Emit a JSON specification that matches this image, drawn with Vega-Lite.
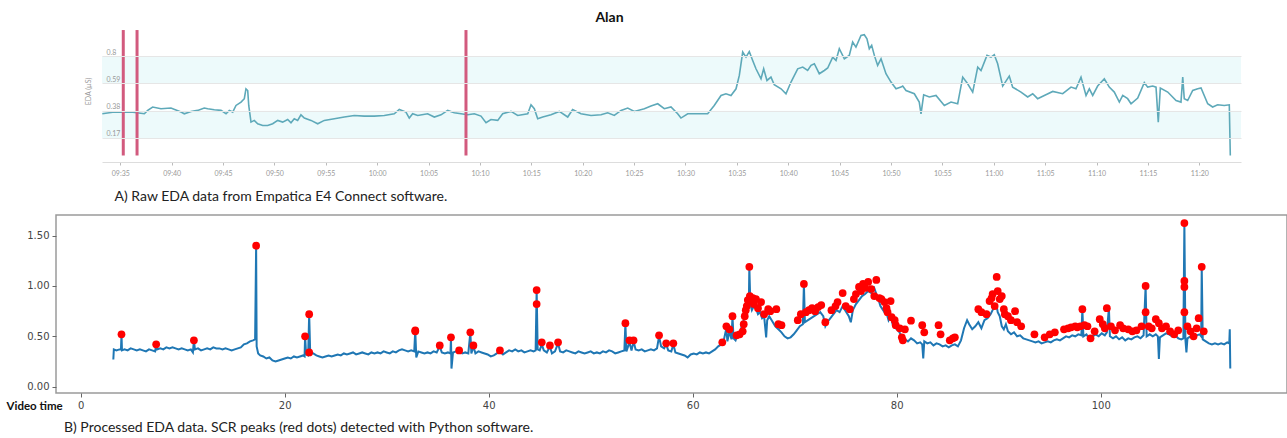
{
  "$schema": "https://vega.github.io/schema/vega-lite/v6.json",
  "padding": {"left": 5, "top": 10, "right": 0, "bottom": 0},
  "background": "white",
  "bounds": "flush",
  "center": true,
  "spacing": 53,
  "config": {"view": {"stroke": null}, "font": "Lato"},
  "datasets": {
    "bands": [{"lo": 0.59, "hi": 0.8}, {"lo": 0.17, "hi": 0.38}],
    "markers": [{"m": 35.29}, {"m": 36.63}, {"m": 68.64}],
    "raw": [
      {"m":33.25,"v":0.356},{"m":34.42,"v":0.369},{"m":36.04,"v":0.369},{"m":37.34,"v":0.356},{"m":37.67,"v":0.382},{"m":38.15,"v":0.408},{"m":38.96,"v":0.395},{"m":39.93,"v":0.4},{"m":40.91,"v":0.369},{"m":41.23,"v":0.356},{"m":41.88,"v":0.374},{"m":42.53,"v":0.382},{"m":43.17,"v":0.4},{"m":43.51,"v":0.395},{"m":44.15,"v":0.387},{"m":44.8,"v":0.382},{"m":45.29,"v":0.356},{"m":45.61,"v":0.382},{"m":45.94,"v":0.369},{"m":46.26,"v":0.42},{"m":46.75,"v":0.446},{"m":47.07,"v":0.472},{"m":47.23,"v":0.548},{"m":47.4,"v":0.535},{"m":47.5,"v":0.42},{"m":47.72,"v":0.292},{"m":48.04,"v":0.305},{"m":48.37,"v":0.279},{"m":48.86,"v":0.266},{"m":49.34,"v":0.266},{"m":49.83,"v":0.279},{"m":50.32,"v":0.305},{"m":50.8,"v":0.292},{"m":51.29,"v":0.312},{"m":51.61,"v":0.287},{"m":51.93,"v":0.318},{"m":52.26,"v":0.305},{"m":52.58,"v":0.348},{"m":52.91,"v":0.323},{"m":53.56,"v":0.305},{"m":54.21,"v":0.279},{"m":54.85,"v":0.305},{"m":55.83,"v":0.318},{"m":56.8,"v":0.331},{"m":57.77,"v":0.343},{"m":58.74,"v":0.338},{"m":59.72,"v":0.338},{"m":60.69,"v":0.343},{"m":61.66,"v":0.356},{"m":62.15,"v":0.389},{"m":62.8,"v":0.369},{"m":63.12,"v":0.323},{"m":63.45,"v":0.356},{"m":63.94,"v":0.343},{"m":64.91,"v":0.356},{"m":65.56,"v":0.331},{"m":66.21,"v":0.348},{"m":66.86,"v":0.382},{"m":67.5,"v":0.364},{"m":68.16,"v":0.356},{"m":68.81,"v":0.348},{"m":69.45,"v":0.356},{"m":70.1,"v":0.338},{"m":70.59,"v":0.287},{"m":71.07,"v":0.312},{"m":71.73,"v":0.305},{"m":72.21,"v":0.356},{"m":73.02,"v":0.374},{"m":73.67,"v":0.343},{"m":74.65,"v":0.356},{"m":74.97,"v":0.425},{"m":75.29,"v":0.395},{"m":75.62,"v":0.318},{"m":76.11,"v":0.331},{"m":76.91,"v":0.348},{"m":77.72,"v":0.374},{"m":78.54,"v":0.331},{"m":79.02,"v":0.389},{"m":79.83,"v":0.356},{"m":80.81,"v":0.343},{"m":81.78,"v":0.348},{"m":82.43,"v":0.364},{"m":83.07,"v":0.343},{"m":83.73,"v":0.382},{"m":84.38,"v":0.4},{"m":85.02,"v":0.374},{"m":86.0,"v":0.395},{"m":86.64,"v":0.415},{"m":87.3,"v":0.433},{"m":87.94,"v":0.395},{"m":88.59,"v":0.408},{"m":89.24,"v":0.356},{"m":89.56,"v":0.323},{"m":90.22,"v":0.356},{"m":91.19,"v":0.356},{"m":92.16,"v":0.356},{"m":92.8,"v":0.42},{"m":93.46,"v":0.497},{"m":93.94,"v":0.51},{"m":94.43,"v":0.497},{"m":94.92,"v":0.548},{"m":95.24,"v":0.651},{"m":95.57,"v":0.831},{"m":95.89,"v":0.792},{"m":96.21,"v":0.835},{"m":96.54,"v":0.766},{"m":96.86,"v":0.702},{"m":97.35,"v":0.625},{"m":97.61,"v":0.702},{"m":97.93,"v":0.612},{"m":98.32,"v":0.638},{"m":98.64,"v":0.579},{"m":99.3,"v":0.548},{"m":99.78,"v":0.51},{"m":100.27,"v":0.6},{"m":100.92,"v":0.702},{"m":101.41,"v":0.715},{"m":101.89,"v":0.689},{"m":102.22,"v":0.728},{"m":102.54,"v":0.741},{"m":103.02,"v":0.664},{"m":103.51,"v":0.689},{"m":103.84,"v":0.708},{"m":104.33,"v":0.792},{"m":104.65,"v":0.766},{"m":104.97,"v":0.856},{"m":105.46,"v":0.779},{"m":105.94,"v":0.805},{"m":106.27,"v":0.908},{"m":106.59,"v":0.869},{"m":107.08,"v":0.958},{"m":107.4,"v":0.964},{"m":107.66,"v":0.933},{"m":107.89,"v":0.856},{"m":108.12,"v":0.882},{"m":108.38,"v":0.805},{"m":108.7,"v":0.728},{"m":109.03,"v":0.779},{"m":109.51,"v":0.664},{"m":110.0,"v":0.6},{"m":110.49,"v":0.548},{"m":110.97,"v":0.561},{"m":111.14,"v":0.569},{"m":111.46,"v":0.535},{"m":112.27,"v":0.51},{"m":112.75,"v":0.446},{"m":112.92,"v":0.356},{"m":113.18,"v":0.502},{"m":113.73,"v":0.485},{"m":114.38,"v":0.497},{"m":115.19,"v":0.42},{"m":115.84,"v":0.446},{"m":116.49,"v":0.433},{"m":116.98,"v":0.638},{"m":117.46,"v":0.587},{"m":117.95,"v":0.523},{"m":118.44,"v":0.715},{"m":118.76,"v":0.689},{"m":119.34,"v":0.805},{"m":119.73,"v":0.792},{"m":120.05,"v":0.81},{"m":120.38,"v":0.741},{"m":120.87,"v":0.569},{"m":121.51,"v":0.646},{"m":121.84,"v":0.561},{"m":122.65,"v":0.523},{"m":123.3,"v":0.485},{"m":123.79,"v":0.51},{"m":124.27,"v":0.472},{"m":124.92,"v":0.497},{"m":125.74,"v":0.528},{"m":126.71,"v":0.51},{"m":127.52,"v":0.561},{"m":128.0,"v":0.548},{"m":128.49,"v":0.638},{"m":128.98,"v":0.497},{"m":129.3,"v":0.548},{"m":129.63,"v":0.497},{"m":130.11,"v":0.569},{"m":130.76,"v":0.625},{"m":131.24,"v":0.561},{"m":131.73,"v":0.523},{"m":132.22,"v":0.446},{"m":132.55,"v":0.497},{"m":133.03,"v":0.472},{"m":133.36,"v":0.433},{"m":134.01,"v":0.477},{"m":134.65,"v":0.595},{"m":134.98,"v":0.561},{"m":135.47,"v":0.569},{"m":135.79,"v":0.561},{"m":136.01,"v":0.292},{"m":136.21,"v":0.554},{"m":136.93,"v":0.523},{"m":137.74,"v":0.458},{"m":138.22,"v":0.446},{"m":138.39,"v":0.638},{"m":138.54,"v":0.472},{"m":138.87,"v":0.458},{"m":139.36,"v":0.535},{"m":139.85,"v":0.548},{"m":140.17,"v":0.554},{"m":140.82,"v":0.433},{"m":141.3,"v":0.408},{"m":141.79,"v":0.425},{"m":142.43,"v":0.42},{"m":142.92,"v":0.425},{"m":143.02,"v":0.035}
    ],
    "eda": [
      {"t":3.2,"v":0.27},{"t":3.25,"v":0.37},{"t":3.5,"v":0.36},{"t":3.8,"v":0.37},{"t":3.95,"v":0.37},{"t":4.0,"v":0.52},{"t":4.05,"v":0.36},{"t":4.3,"v":0.37},{"t":4.6,"v":0.36},{"t":4.9,"v":0.38},{"t":5.2,"v":0.37},{"t":5.5,"v":0.36},{"t":5.8,"v":0.37},{"t":6.1,"v":0.36},{"t":6.4,"v":0.35},{"t":6.7,"v":0.37},{"t":7.0,"v":0.36},{"t":7.3,"v":0.35},{"t":7.4,"v":0.42},{"t":7.5,"v":0.37},{"t":7.8,"v":0.38},{"t":8.1,"v":0.37},{"t":8.4,"v":0.39},{"t":8.7,"v":0.38},{"t":9.0,"v":0.39},{"t":9.3,"v":0.38},{"t":9.6,"v":0.37},{"t":9.9,"v":0.38},{"t":10.2,"v":0.37},{"t":10.5,"v":0.36},{"t":10.8,"v":0.37},{"t":11.0,"v":0.34},{"t":11.1,"v":0.46},{"t":11.2,"v":0.37},{"t":11.5,"v":0.38},{"t":11.8,"v":0.36},{"t":12.1,"v":0.37},{"t":12.4,"v":0.38},{"t":12.7,"v":0.37},{"t":13.0,"v":0.39},{"t":13.3,"v":0.38},{"t":13.6,"v":0.38},{"t":13.9,"v":0.37},{"t":14.2,"v":0.38},{"t":14.5,"v":0.37},{"t":14.8,"v":0.36},{"t":15.1,"v":0.37},{"t":15.4,"v":0.38},{"t":15.7,"v":0.39},{"t":16.0,"v":0.42},{"t":16.3,"v":0.43},{"t":16.6,"v":0.45},{"t":16.9,"v":0.46},{"t":17.1,"v":0.47},{"t":17.2,"v":1.4},{"t":17.25,"v":0.4},{"t":17.4,"v":0.33},{"t":17.6,"v":0.31},{"t":17.9,"v":0.3},{"t":18.2,"v":0.28},{"t":18.5,"v":0.29},{"t":18.8,"v":0.26},{"t":19.1,"v":0.25},{"t":19.4,"v":0.26},{"t":19.7,"v":0.27},{"t":20.0,"v":0.28},{"t":20.3,"v":0.29},{"t":20.6,"v":0.28},{"t":20.9,"v":0.3},{"t":21.2,"v":0.29},{"t":21.5,"v":0.3},{"t":21.8,"v":0.31},{"t":21.95,"v":0.3},{"t":22.0,"v":0.5},{"t":22.1,"v":0.32},{"t":22.3,"v":0.31},{"t":22.4,"v":0.72},{"t":22.5,"v":0.34},{"t":22.8,"v":0.33},{"t":23.1,"v":0.31},{"t":23.4,"v":0.3},{"t":23.7,"v":0.29},{"t":24.0,"v":0.3},{"t":24.3,"v":0.31},{"t":24.6,"v":0.3},{"t":24.9,"v":0.31},{"t":25.2,"v":0.32},{"t":25.5,"v":0.31},{"t":25.8,"v":0.33},{"t":26.1,"v":0.32},{"t":26.4,"v":0.33},{"t":26.7,"v":0.34},{"t":27.0,"v":0.32},{"t":27.3,"v":0.33},{"t":27.6,"v":0.34},{"t":27.9,"v":0.33},{"t":28.2,"v":0.32},{"t":28.5,"v":0.34},{"t":28.8,"v":0.33},{"t":29.1,"v":0.34},{"t":29.4,"v":0.33},{"t":29.7,"v":0.35},{"t":30.0,"v":0.34},{"t":30.3,"v":0.33},{"t":30.6,"v":0.35},{"t":30.9,"v":0.34},{"t":31.2,"v":0.36},{"t":31.5,"v":0.37},{"t":31.8,"v":0.36},{"t":32.1,"v":0.35},{"t":32.4,"v":0.36},{"t":32.7,"v":0.35},{"t":32.8,"v":0.56},{"t":32.9,"v":0.29},{"t":33.1,"v":0.35},{"t":33.4,"v":0.34},{"t":33.7,"v":0.33},{"t":34.0,"v":0.34},{"t":34.3,"v":0.33},{"t":34.6,"v":0.35},{"t":34.9,"v":0.34},{"t":35.2,"v":0.4},{"t":35.4,"v":0.34},{"t":35.7,"v":0.33},{"t":36.0,"v":0.34},{"t":36.25,"v":0.33},{"t":36.3,"v":0.49},{"t":36.35,"v":0.18},{"t":36.5,"v":0.34},{"t":36.8,"v":0.35},{"t":37.1,"v":0.36},{"t":37.4,"v":0.33},{"t":37.7,"v":0.34},{"t":38.0,"v":0.33},{"t":38.2,"v":0.54},{"t":38.3,"v":0.33},{"t":38.5,"v":0.4},{"t":38.7,"v":0.33},{"t":39.0,"v":0.35},{"t":39.3,"v":0.34},{"t":39.6,"v":0.33},{"t":39.9,"v":0.32},{"t":40.2,"v":0.3},{"t":40.5,"v":0.31},{"t":40.8,"v":0.33},{"t":41.1,"v":0.35},{"t":41.4,"v":0.32},{"t":41.7,"v":0.34},{"t":42.0,"v":0.36},{"t":42.3,"v":0.35},{"t":42.6,"v":0.37},{"t":42.9,"v":0.35},{"t":43.2,"v":0.36},{"t":43.5,"v":0.34},{"t":43.8,"v":0.35},{"t":44.1,"v":0.36},{"t":44.4,"v":0.35},{"t":44.6,"v":0.36},{"t":44.7,"v":0.96},{"t":44.8,"v":0.37},{"t":45.0,"v":0.36},{"t":45.2,"v":0.42},{"t":45.4,"v":0.36},{"t":45.7,"v":0.34},{"t":46.0,"v":0.4},{"t":46.2,"v":0.33},{"t":46.5,"v":0.35},{"t":46.8,"v":0.43},{"t":47.0,"v":0.35},{"t":47.3,"v":0.34},{"t":47.6,"v":0.36},{"t":47.9,"v":0.35},{"t":48.2,"v":0.34},{"t":48.5,"v":0.33},{"t":48.8,"v":0.35},{"t":49.1,"v":0.34},{"t":49.4,"v":0.33},{"t":49.7,"v":0.34},{"t":50.0,"v":0.35},{"t":50.3,"v":0.33},{"t":50.6,"v":0.34},{"t":50.9,"v":0.33},{"t":51.2,"v":0.35},{"t":51.5,"v":0.34},{"t":51.8,"v":0.36},{"t":52.1,"v":0.35},{"t":52.4,"v":0.33},{"t":52.7,"v":0.34},{"t":53.0,"v":0.35},{"t":53.3,"v":0.36},{"t":53.4,"v":0.63},{"t":53.5,"v":0.35},{"t":53.8,"v":0.44},{"t":54.0,"v":0.36},{"t":54.2,"v":0.45},{"t":54.4,"v":0.37},{"t":54.7,"v":0.36},{"t":55.0,"v":0.37},{"t":55.3,"v":0.35},{"t":55.6,"v":0.36},{"t":55.9,"v":0.37},{"t":56.2,"v":0.36},{"t":56.5,"v":0.38},{"t":56.7,"v":0.5},{"t":56.9,"v":0.4},{"t":57.2,"v":0.38},{"t":57.4,"v":0.42},{"t":57.6,"v":0.36},{"t":57.9,"v":0.35},{"t":58.1,"v":0.42},{"t":58.3,"v":0.34},{"t":58.6,"v":0.33},{"t":58.9,"v":0.32},{"t":59.2,"v":0.31},{"t":59.5,"v":0.29},{"t":59.8,"v":0.32},{"t":60.1,"v":0.33},{"t":60.4,"v":0.32},{"t":60.7,"v":0.34},{"t":61.0,"v":0.33},{"t":61.3,"v":0.34},{"t":61.6,"v":0.33},{"t":61.9,"v":0.35},{"t":62.2,"v":0.37},{"t":62.5,"v":0.4},{"t":62.8,"v":0.42},{"t":63.0,"v":0.44},{"t":63.3,"v":0.58},{"t":63.4,"v":0.45},{"t":63.6,"v":0.55},{"t":63.8,"v":0.47},{"t":63.9,"v":0.7},{"t":64.0,"v":0.48},{"t":64.2,"v":0.46},{"t":64.4,"v":0.52},{"t":64.6,"v":0.5},{"t":64.8,"v":0.6},{"t":65.0,"v":0.66},{"t":65.2,"v":0.72},{"t":65.4,"v":0.78},{"t":65.5,"v":0.8},{"t":65.55,"v":1.19},{"t":65.65,"v":0.82},{"t":65.8,"v":0.76},{"t":66.0,"v":0.8},{"t":66.2,"v":0.78},{"t":66.4,"v":0.72},{"t":66.6,"v":0.74},{"t":66.8,"v":0.68},{"t":67.0,"v":0.7},{"t":67.2,"v":0.49},{"t":67.3,"v":0.66},{"t":67.5,"v":0.7},{"t":67.8,"v":0.65},{"t":68.1,"v":0.6},{"t":68.4,"v":0.57},{"t":68.7,"v":0.54},{"t":69.0,"v":0.5},{"t":69.3,"v":0.48},{"t":69.6,"v":0.49},{"t":69.9,"v":0.52},{"t":70.2,"v":0.56},{"t":70.5,"v":0.6},{"t":70.8,"v":0.62},{"t":70.9,"v":1.02},{"t":71.0,"v":0.64},{"t":71.3,"v":0.66},{"t":71.6,"v":0.68},{"t":71.9,"v":0.7},{"t":72.2,"v":0.72},{"t":72.5,"v":0.74},{"t":72.8,"v":0.7},{"t":73.0,"v":0.6},{"t":73.2,"v":0.64},{"t":73.5,"v":0.68},{"t":73.8,"v":0.72},{"t":74.1,"v":0.76},{"t":74.4,"v":0.74},{"t":74.7,"v":0.8},{"t":75.0,"v":0.75},{"t":75.3,"v":0.7},{"t":75.5,"v":0.64},{"t":75.7,"v":0.76},{"t":76.0,"v":0.82},{"t":76.3,"v":0.86},{"t":76.6,"v":0.9},{"t":76.9,"v":0.92},{"t":77.2,"v":0.95},{"t":77.5,"v":0.93},{"t":77.8,"v":0.98},{"t":78.0,"v":0.92},{"t":78.2,"v":0.87},{"t":78.4,"v":0.8},{"t":78.6,"v":0.77},{"t":78.8,"v":0.74},{"t":79.0,"v":0.73},{"t":79.2,"v":0.66},{"t":79.4,"v":0.7},{"t":79.6,"v":0.62},{"t":79.9,"v":0.58},{"t":80.2,"v":0.55},{"t":80.5,"v":0.5},{"t":80.8,"v":0.47},{"t":81.1,"v":0.45},{"t":81.4,"v":0.48},{"t":81.7,"v":0.46},{"t":82.0,"v":0.43},{"t":82.3,"v":0.44},{"t":82.5,"v":0.42},{"t":82.6,"v":0.28},{"t":82.7,"v":0.45},{"t":83.0,"v":0.43},{"t":83.3,"v":0.44},{"t":83.6,"v":0.41},{"t":83.9,"v":0.43},{"t":84.2,"v":0.42},{"t":84.5,"v":0.4},{"t":84.8,"v":0.41},{"t":85.1,"v":0.39},{"t":85.4,"v":0.41},{"t":85.7,"v":0.42},{"t":86.0,"v":0.4},{"t":86.3,"v":0.46},{"t":86.6,"v":0.58},{"t":86.9,"v":0.66},{"t":87.1,"v":0.62},{"t":87.4,"v":0.57},{"t":87.7,"v":0.6},{"t":88.0,"v":0.64},{"t":88.3,"v":0.58},{"t":88.6,"v":0.66},{"t":88.9,"v":0.68},{"t":89.2,"v":0.72},{"t":89.5,"v":0.78},{"t":89.8,"v":0.8},{"t":89.9,"v":0.74},{"t":90.1,"v":0.7},{"t":90.3,"v":0.6},{"t":90.5,"v":0.57},{"t":90.7,"v":0.62},{"t":90.9,"v":0.55},{"t":91.2,"v":0.52},{"t":91.5,"v":0.54},{"t":91.8,"v":0.5},{"t":92.1,"v":0.51},{"t":92.4,"v":0.48},{"t":92.7,"v":0.47},{"t":93.0,"v":0.46},{"t":93.3,"v":0.45},{"t":93.6,"v":0.44},{"t":93.9,"v":0.45},{"t":94.2,"v":0.43},{"t":94.5,"v":0.44},{"t":94.8,"v":0.45},{"t":95.1,"v":0.44},{"t":95.4,"v":0.46},{"t":95.7,"v":0.47},{"t":96.0,"v":0.46},{"t":96.3,"v":0.48},{"t":96.6,"v":0.5},{"t":96.9,"v":0.49},{"t":97.2,"v":0.51},{"t":97.5,"v":0.5},{"t":97.8,"v":0.52},{"t":98.1,"v":0.51},{"t":98.2,"v":0.77},{"t":98.3,"v":0.5},{"t":98.6,"v":0.52},{"t":98.9,"v":0.47},{"t":99.2,"v":0.5},{"t":99.5,"v":0.52},{"t":99.8,"v":0.5},{"t":100.1,"v":0.53},{"t":100.4,"v":0.51},{"t":100.6,"v":0.54},{"t":100.8,"v":0.78},{"t":100.9,"v":0.5},{"t":101.2,"v":0.48},{"t":101.5,"v":0.5},{"t":101.8,"v":0.47},{"t":102.1,"v":0.49},{"t":102.4,"v":0.46},{"t":102.7,"v":0.48},{"t":103.0,"v":0.47},{"t":103.3,"v":0.49},{"t":103.6,"v":0.5},{"t":103.9,"v":0.48},{"t":104.2,"v":0.51},{"t":104.4,"v":1.0},{"t":104.5,"v":0.5},{"t":104.8,"v":0.52},{"t":105.1,"v":0.5},{"t":105.4,"v":0.52},{"t":105.6,"v":0.5},{"t":105.7,"v":0.275},{"t":105.8,"v":0.49},{"t":106.1,"v":0.51},{"t":106.4,"v":0.53},{"t":106.7,"v":0.52},{"t":107.0,"v":0.5},{"t":107.3,"v":0.51},{"t":107.6,"v":0.48},{"t":107.9,"v":0.47},{"t":108.1,"v":0.48},{"t":108.2,"v":1.625},{"t":108.3,"v":0.47},{"t":108.4,"v":0.34},{"t":108.5,"v":0.48},{"t":108.8,"v":0.5},{"t":109.1,"v":0.49},{"t":109.4,"v":0.51},{"t":109.7,"v":0.52},{"t":109.85,"v":0.5},{"t":109.9,"v":1.19},{"t":110.0,"v":0.47},{"t":110.3,"v":0.45},{"t":110.6,"v":0.43},{"t":110.9,"v":0.42},{"t":111.2,"v":0.43},{"t":111.5,"v":0.42},{"t":111.8,"v":0.43},{"t":112.1,"v":0.42},{"t":112.4,"v":0.44},{"t":112.6,"v":0.43},{"t":112.65,"v":0.57},{"t":112.7,"v":0.18}
    ],
    "peaks": [
      {"t":4.0,"v":0.52},{"t":7.4,"v":0.42},{"t":11.1,"v":0.46},{"t":17.2,"v":1.4},{"t":22.0,"v":0.5},{"t":22.4,"v":0.72},{"t":22.4,"v":0.34},{"t":32.8,"v":0.56},{"t":32.8,"v":0.55},
      {"t":35.2,"v":0.41},{"t":36.3,"v":0.49},{"t":37.1,"v":0.36},{"t":38.2,"v":0.54},{"t":38.5,"v":0.41},{"t":41.1,"v":0.36},{"t":44.7,"v":0.96},{"t":44.7,"v":0.82},{"t":45.2,"v":0.44},{"t":46.0,"v":0.41},{"t":46.8,"v":0.44},
      {"t":53.4,"v":0.63},{"t":53.8,"v":0.46},{"t":54.2,"v":0.46},{"t":56.7,"v":0.51},{"t":57.4,"v":0.43},{"t":58.1,"v":0.43},
      {"t":62.9,"v":0.44},{"t":63.3,"v":0.6},{"t":63.6,"v":0.57},{"t":63.9,"v":0.7},{"t":64.3,"v":0.51},{"t":64.6,"v":0.52},{"t":64.9,"v":0.55},{"t":65.0,"v":0.62},{"t":65.1,"v":0.7},{"t":65.2,"v":0.76},{"t":65.3,"v":0.8},{"t":65.4,"v":0.86},{"t":65.55,"v":1.19},{"t":65.6,"v":0.9},{"t":65.7,"v":0.85},{"t":65.9,"v":0.88},{"t":66.0,"v":0.82},{"t":66.2,"v":0.87},{"t":66.4,"v":0.78},{"t":66.7,"v":0.84},{"t":67.0,"v":0.72},{"t":67.4,"v":0.77},{"t":67.6,"v":0.75},{"t":68.2,"v":0.77},{"t":68.4,"v":0.62},{"t":68.7,"v":0.61},
      {"t":70.3,"v":0.66},{"t":70.6,"v":0.72},{"t":70.9,"v":1.02},{"t":71.1,"v":0.74},{"t":71.4,"v":0.76},{"t":71.7,"v":0.78},{"t":72.0,"v":0.75},{"t":72.3,"v":0.79},{"t":72.6,"v":0.81},{"t":73.0,"v":0.64},{"t":73.6,"v":0.76},{"t":74.0,"v":0.8},{"t":74.2,"v":0.84},{"t":74.7,"v":0.93},{"t":75.0,"v":0.8},{"t":75.4,"v":0.77},{"t":75.8,"v":0.87},{"t":76.0,"v":0.92},{"t":76.3,"v":0.99},{"t":76.5,"v":0.95},{"t":76.7,"v":1.02},{"t":76.9,"v":0.98},{"t":77.2,"v":1.04},{"t":77.5,"v":0.97},{"t":77.8,"v":0.9},{"t":78.0,"v":1.06},{"t":78.3,"v":0.88},{"t":78.5,"v":0.87},{"t":78.8,"v":0.84},{"t":79.0,"v":0.78},{"t":79.1,"v":0.74},{"t":79.4,"v":0.85},{"t":79.5,"v":0.69},{"t":79.8,"v":0.66},{"t":79.9,"v":0.61},{"t":80.3,"v":0.58},{"t":80.5,"v":0.49},{"t":80.6,"v":0.46},{"t":80.8,"v":0.57},{"t":81.4,"v":0.655},{"t":82.5,"v":0.61},{"t":82.7,"v":0.54},{"t":84.1,"v":0.61},{"t":84.3,"v":0.52},{"t":85.2,"v":0.46},{"t":85.5,"v":0.48},{"t":85.7,"v":0.49},
      {"t":88.0,"v":0.77},{"t":88.3,"v":0.74},{"t":88.8,"v":0.72},{"t":89.1,"v":0.85},{"t":89.3,"v":0.88},{"t":89.4,"v":0.92},{"t":89.6,"v":0.8},{"t":89.8,"v":1.09},{"t":89.9,"v":0.95},{"t":90.1,"v":0.87},{"t":90.3,"v":0.9},{"t":90.5,"v":0.77},{"t":90.6,"v":0.72},{"t":90.9,"v":0.7},{"t":91.2,"v":0.66},{"t":91.6,"v":0.75},{"t":91.8,"v":0.64},{"t":92.2,"v":0.6},
      {"t":93.5,"v":0.52},{"t":94.5,"v":0.49},{"t":95.0,"v":0.52},{"t":95.5,"v":0.54},{"t":96.4,"v":0.57},{"t":96.8,"v":0.58},{"t":97.1,"v":0.59},{"t":97.5,"v":0.6},{"t":97.7,"v":0.59},{"t":98.0,"v":0.6},{"t":98.2,"v":0.77},{"t":98.4,"v":0.61},{"t":98.7,"v":0.6},{"t":99.0,"v":0.48},{"t":99.4,"v":0.55},{"t":99.9,"v":0.67},{"t":100.2,"v":0.62},{"t":100.4,"v":0.58},{"t":100.6,"v":0.78},{"t":101.0,"v":0.6},{"t":101.4,"v":0.56},{"t":101.9,"v":0.61},{"t":102.2,"v":0.58},{"t":102.7,"v":0.57},{"t":103.1,"v":0.55},{"t":103.5,"v":0.56},{"t":104.0,"v":0.6},{"t":104.4,"v":1.0},{"t":104.4,"v":0.74},{"t":104.7,"v":0.6},{"t":105.0,"v":0.58},{"t":105.4,"v":0.67},{"t":105.7,"v":0.63},{"t":106.0,"v":0.58},{"t":106.4,"v":0.6},{"t":106.8,"v":0.55},{"t":107.2,"v":0.52},{"t":107.6,"v":0.56},{"t":108.2,"v":1.625},{"t":108.2,"v":1.05},{"t":108.2,"v":0.99},{"t":108.2,"v":0.74},{"t":108.5,"v":0.6},{"t":108.8,"v":0.55},{"t":109.1,"v":0.5},{"t":109.4,"v":0.58},{"t":109.6,"v":0.68},{"t":109.9,"v":1.19},{"t":110.1,"v":0.55}
    ]
  },
  "vconcat": [
    {
      "width": 1139,
      "height": 133,
      "title": {"text": "Alan", "fontSize": 14, "fontWeight": "bold", "font": "Lato", "color": "#111111", "anchor": "middle", "dx": -62, "offset": -10, "baseline": "bottom"},
      "layer": [
        {
          "data": {"name": "bands"},
          "mark": {"type": "rect", "color": "#edfafb"},
          "encoding": {
            "y": {"field": "lo", "type": "quantitative", "title": "EDA (µS)", "scale": {"domain": [-0.015, 1.008], "nice": false, "zero": false},
              "axis": {"values": [0.17, 0.38, 0.59, 0.8], "zindex": 1, "labelOverlap": false,
                "labelExpr": "format(datum.value, '.2~f')",
                "grid": true, "gridColor": "#e6e6e6", "domain": false, "ticks": false,
                "labelAlign": "left", "labelPadding": -4, "labelBaseline": "bottom", "labelOffset": -1,
                "labelFont": "Lato", "labelFontSize": 7, "labelColor": "#999999",
                "titleFont": "Lato", "titleFontSize": 7, "titleFontWeight": "normal", "titleColor": "#999999", "titleX": -11, "titleY": 62}},
            "y2": {"field": "hi"}
          }
        },
        {
          "mark": {"type": "rule", "color": "#e6e6e6", "strokeWidth": 1},
          "encoding": {"y": {"datum": 1.004, "type": "quantitative", "title": "EDA (µS)"}}
        },
        {
          "data": {"name": "raw"},
          "mark": {"type": "line", "color": "#5ea9b9", "strokeWidth": 1.6},
          "encoding": {
            "x": {"field": "m", "type": "quantitative", "scale": {"domain": [33.22, 144.06], "nice": false, "zero": false},
              "axis": {"values": [35,40,45,50,55,60,65,70,75,80,85,90,95,100,105,110,115,120,125,130,135,140],
                "labelExpr": "format(floor(datum.value/60)+9,'02d') + ':' + format(datum.value%60,'02d')",
                "grid": false, "domainColor": "#dddddd", "tickColor": "#bbbbbb", "tickSize": 3,
                "labelFont": "Lato", "labelFontSize": 7, "labelColor": "#999999", "labelPadding": 4,
                "title": "A) Raw EDA data from Empatica E4 Connect software.", "titleX": 12, "titleY": 34, "titleAlign": "left", "titleBaseline": "middle",
                "titleFont": "Lato", "titleFontSize": 14, "titleFontWeight": "normal", "titleColor": "#222222"}},
            "y": {"field": "v", "type": "quantitative", "title": "EDA (µS)"}
          }
        },
        {
          "data": {"name": "markers"},
          "mark": {"type": "rule", "color": "#d25a7e", "strokeWidth": 3},
          "encoding": {
            "x": {"field": "m", "type": "quantitative"},
            "y": {"datum": 1.0, "title": "EDA (µS)"},
            "y2": {"datum": 0.035}
          }
        }
      ]
    },
    {
      "width": 1231,
      "height": 178,
      "view": {"stroke": "#9a9a9a", "strokeWidth": 1.5},
      "title": {"text": "B) Processed EDA data. SCR peaks (red dots) detected with Python software.", "orient": "bottom", "anchor": "start", "dx": 58, "offset": 9, "fontSize": 14, "fontWeight": "normal", "font": "Lato", "color": "#222222", "baseline": "top"},
      "layer": [
        {
          "data": {"name": "eda"},
          "mark": {"type": "line", "color": "#1f77b4", "strokeWidth": 2},
          "encoding": {
            "x": {"field": "t", "type": "quantitative", "scale": {"domain": [-2.42, 118.26], "nice": false, "zero": false},
              "axis": {"values": [0, 20, 40, 60, 80, 100], "grid": false, "domain": false, "tickColor": "#666666", "tickSize": 4,
                "labelFont": "DejaVu Sans", "labelFontSize": 10, "labelColor": "#444444", "labelPadding": 3,
                "title": "Video time", "titleX": -50, "titleY": 13, "titleAlign": "left", "titleBaseline": "middle",
                "titleFont": "Lato", "titleFontSize": 11.5, "titleFontWeight": "bold", "titleColor": "#111111"}},
            "y": {"field": "v", "type": "quantitative", "scale": {"domain": [-0.063, 1.705], "nice": false, "zero": false},
              "axis": {"values": [0, 0.25, 0.5, 0.75, 1, 1.25, 1.5], "format": ".2f", "grid": false, "domain": false, "tickColor": "#666666", "tickSize": 4,
                "labelFont": "DejaVu Sans", "labelFontSize": 10, "labelColor": "#444444", "labelPadding": 3, "title": null}}
          }
        },
        {
          "data": {"name": "peaks"},
          "mark": {"type": "point", "filled": true, "color": "#ff0000", "size": 60, "opacity": 1},
          "encoding": {
            "x": {"field": "t", "type": "quantitative"},
            "y": {"field": "v", "type": "quantitative"}
          }
        }
      ]
    }
  ]
}
